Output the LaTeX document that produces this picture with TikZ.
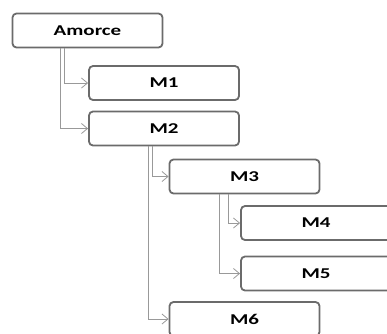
\documentclass[tikz,border=0pt]{standalone}
\usepackage{fontspec}
\newfontfamily\boxfont[FakeStretch=1.4]{Carlito}
\usepackage{tikz}
\usetikzlibrary{positioning}
\usetikzlibrary{arrows.meta}

\begin{document}
\begin{tikzpicture}	[
		x=1pt, y=-1pt,
		box/.style={draw=black!58, line width=1.8pt, fill=white, rounded corners=4pt,
			minimum width=150pt, minimum height=34pt, inner sep=0pt,
			font=\boxfont\bfseries\fontsize{15}{15}\selectfont},
		link/.style={draw=black!40, line width=0.8pt,
			-{Straight Barb[length=6pt,width=10pt]}}
	]
		\useasboundingbox (0,0) rectangle (387,333);
		\clip (0,0) rectangle (387,333);
		% modules
		\node[box] (amorce) at (87.5,30.5) {Amorce};
		\node[box] (m1) at (164,83) {M1};
		\node[box] (m2) at (164,128.5) {M2};
		\node[box] (m3) at (244.5,176.5) {M3};
		\node[box] (m4) at (316,223) {M4};
		\node[box] (m5) at (316,273.5) {M5};
		\node[box] (m6) at (244.5,319) {M6};
		% calls
		\draw[link] ([xshift=53pt]amorce.south west) |- (m1.west);
		\draw[link] ([xshift=49pt]amorce.south west) |- (m2.west);
		\draw[link] ([xshift=64pt]m2.south west) |- (m3.west);
		\draw[link] ([xshift=60pt]m2.south west) |- (m6.west);
		\draw[link] ([xshift=60pt]m3.south west) |- (m4.west);
		\draw[link] ([xshift=51pt]m3.south west) |- (m5.west);
	\end{tikzpicture}
\end{document}
